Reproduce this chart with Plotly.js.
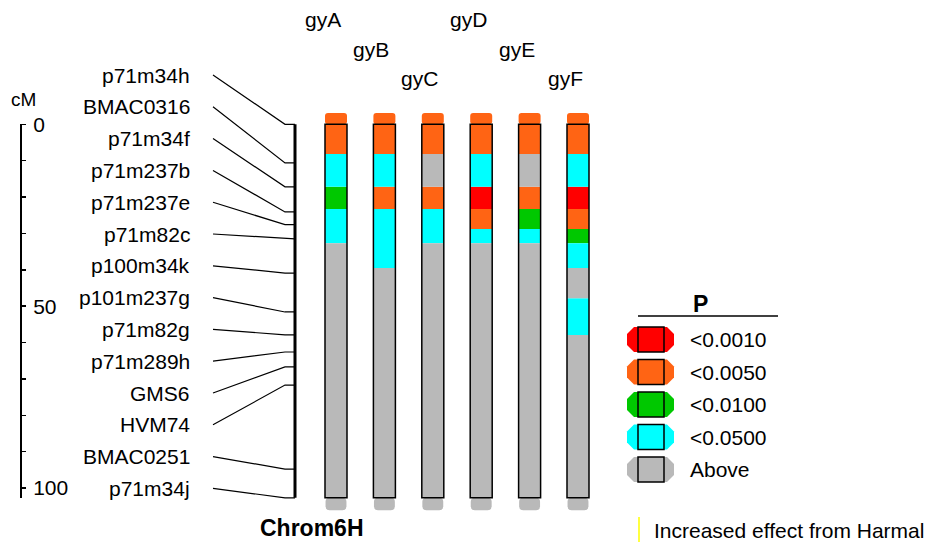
<!DOCTYPE html>
<html><head><meta charset="utf-8">
<script src="https://cdn.plot.ly/plotly-3.0.1.min.js"></script>
<style>html,body{margin:0;padding:0;background:#fff;}#chart{width:933px;height:542px;}</style>
</head><body><div id="chart"></div>
<script>
// ---------------- data ----------------
const chromName = 'Chrom6H';
const chromLen = 102.7;
const markerNames = ['p71m34h','BMAC0316','p71m34f','p71m237b','p71m237e','p71m82c','p100m34k',
  'p101m237g','p71m82g','p71m289h','GMS6','HVM74','BMAC0251','p71m34j'];
const markerPos = [0, 10.6, 17.2, 24.1, 27.6, 31.5, 40.9, 51.6, 57.9, 62.6, 66.7, 71.7, 94.8, 102.7];
const scaleTicks = [0,10,20,30,40,50,60,70,80,90,100];
const scaleLabels = ['0','','','','','50','','','','','100'];
const traitNames = ['gyA','gyB','gyC','gyD','gyE','gyF'];
const levelLabels = ['<0.0010','<0.0050','<0.0100','<0.0500','Above'];
const levelColors = ['#ff0000','#ff6414','#00c800','#00ffff','#b9b9b9'];
// interval boundaries (cM) and P-level index of each interval per trait
const intervalBounds = [0, 8.2, 17.2, 23.3, 28.8, 32.7, 39.5, 47.8, 57.9, 102.7];
const gyA = [1,3,2,3,3,4,4,4,4];
const gyB = [1,3,1,3,3,3,4,4,4];
const gyC = [1,4,1,3,3,4,4,4,4];
const gyD = [1,3,0,1,3,4,4,4,4];
const gyE = [1,4,1,2,3,4,4,4,4];
const gyF = [1,3,0,1,2,3,4,3,4];
const traitLevels = [gyA,gyB,gyC,gyD,gyE,gyF];
const noteText = 'Increased effect from Harmal';

// ---------------- layout constants ----------------
const W = 933, H = 542;
const ppc = 3.637, topPx = 124.3;           // px per cM, pixel of 0 cM
const yMin = -topPx/ppc, yMax = yMin + H/ppc;
const pxToCM = py => yMin + py/ppc;
const px = x => x/W, py = y => 1 - y/H;
const FONT = 'Liberation Sans, Arial, sans-serif';
const barW = 22/48.4;

const traces = [];
// helper trace for scale axis subplot
traces.push({type:'scatter', x:[null], y:[null], xaxis:'x2', yaxis:'y2', hoverinfo:'skip', showlegend:false});

// connectors
const labelTop = 75, labelStep = 31.8;
const cx = [], cy = [];
markerNames.forEach((n,i)=>{
  const ly = pxToCM(labelTop + i*labelStep);
  cx.push(213, 285, 295, null);
  cy.push(ly, markerPos[i], markerPos[i], null);
});
traces.push({type:'scatter', mode:'lines', x:cx, y:cy, xaxis:'x2', yaxis:'y',
  line:{color:'#000', width:1.2}, hoverinfo:'skip', showlegend:false});
// chromosome
traces.push({type:'scatter', mode:'lines', x:[295,295], y:[0, chromLen], xaxis:'x2', yaxis:'y',
  line:{color:'#000', width:3}, hoverinfo:'skip', showlegend:false});

// segments
levelLabels.forEach((lab, L)=>{
  const xs=[], bs=[], ls=[];
  traitLevels.forEach((lv, t)=>{
    let i=0;
    while(i<lv.length){
      let j=i; while(j+1<lv.length && lv[j+1]===lv[i]) j++;
      if(lv[i]===L){ xs.push(traitNames[t]); bs.push(intervalBounds[i]); ls.push(intervalBounds[j+1]-intervalBounds[i]); }
      i=j+1;
    }
  });
  traces.push({type:'bar', x:xs, base:bs, y:ls, width:barW, marker:{color:levelColors[L]},
    hoverinfo:'skip', showlegend:false, xaxis:'x', yaxis:'y'});
});
// caps
traces.push({type:'bar', x:traitNames, base:traitNames.map(()=>0), y:traitNames.map(()=>-3.1), width:barW,
  marker:{color:traitLevels.map(l=>levelColors[l[0]]), cornerradius:3}, hoverinfo:'skip', showlegend:false});
traces.push({type:'bar', x:traitNames, base:traitNames.map(()=>chromLen), y:traitNames.map(()=>3.4), width:barW*0.95,
  marker:{color:traitLevels.map(l=>levelColors[l[l.length-1]]), cornerradius:4}, hoverinfo:'skip', showlegend:false});
// outlines
traces.push({type:'bar', x:traitNames, base:traitNames.map(()=>0), y:traitNames.map(()=>chromLen), width:barW,
  marker:{color:'rgba(0,0,0,0)', line:{color:'#000', width:1.5}}, hoverinfo:'skip', showlegend:false});

// ---------------- annotations & shapes ----------------
const annotations = [];
const shapes = [];
markerNames.forEach((n,i)=>{
  annotations.push({text:n, xref:'x2', yref:'y', x:192, y:pxToCM(labelTop+i*labelStep),
    xanchor:'right', yanchor:'middle', showarrow:false, font:{family:FONT, size:21, color:'#000'}});
});
const labelRows = [20, 49, 78];
traitNames.forEach((n,i)=>{
  annotations.push({text:n, xref:'x', yref:'paper', x:n, xshift:-13, y:py(labelRows[i%3]),
    xanchor:'center', yanchor:'middle', showarrow:false, font:{family:FONT, size:21, color:'#000'}});
});
annotations.push({text:'cM', xref:'paper', yref:'paper', x:px(23), y:py(100), xanchor:'center', yanchor:'middle',
  showarrow:false, font:{family:FONT, size:19, color:'#000'}});
annotations.push({text:'<b>'+chromName+'</b>', xref:'paper', yref:'paper', x:px(312), y:py(528), xanchor:'center', yanchor:'middle',
  showarrow:false, font:{family:FONT, size:23, color:'#000'}});
// legend
annotations.push({text:'<b>P</b>', xref:'paper', yref:'paper', x:px(700), y:py(304), xanchor:'center', yanchor:'middle',
  showarrow:false, font:{family:FONT, size:23, color:'#000'}});
shapes.push({type:'line', xref:'paper', yref:'paper', x0:px(638), x1:px(778), y0:py(316), y1:py(316), line:{color:'#000', width:1.5}});
function octPath(x0,y0,x1,y1,c){
  const pts=[[x0+c,y0],[x1-c,y0],[x1,y0+c],[x1,y1-c],[x1-c,y1],[x0+c,y1],[x0,y1-c],[x0,y0+c]];
  return 'M'+pts.map(p=>px(p[0])+','+py(p[1])).join(' L')+' Z';
}
const legTop = 339.5, legStep = 32.5;
levelLabels.forEach((lab,i)=>{
  const cyP = legTop + i*legStep;
  shapes.push({type:'path', xref:'paper', yref:'paper', path:octPath(627, cyP-12.5, 674, cyP+12.5, 7),
    fillcolor:levelColors[i], line:{width:0}});
  shapes.push({type:'rect', xref:'paper', yref:'paper', x0:px(638), x1:px(664), y0:py(cyP-12.5), y1:py(cyP+12.5),
    fillcolor:levelColors[i], line:{color:'#000', width:1.5}});
  annotations.push({text:lab.replace('<','&lt;'), xref:'paper', yref:'paper', x:px(688), y:py(cyP), xanchor:'left', yanchor:'middle',
    showarrow:false, font:{family:FONT, size:21, color:'#000'}});
});
shapes.push({type:'line', xref:'paper', yref:'paper', x0:px(639), x1:px(639), y0:py(517), y1:py(542), line:{color:'#ffff00', width:1.5}});
annotations.push({text:noteText, xref:'paper', yref:'paper', x:px(652), y:py(530), xanchor:'left', yanchor:'middle',
  showarrow:false, font:{family:FONT, size:21, color:'#000'}});

const layout = {
  width:W, height:H, margin:{l:0,r:0,t:0,b:0}, paper_bgcolor:'#fff', plot_bgcolor:'rgba(0,0,0,0)',
  showlegend:false, barmode:'overlay', hovermode:false,
  xaxis:{type:'category', categoryarray:traitNames, range:[-0.5,5.5], domain:[px(311.8), px(602.2)], visible:false, anchor:'y'},
  yaxis:{range:[yMax, yMin], domain:[0,1], visible:false, anchor:'x'},
  xaxis2:{range:[0,310], domain:[0, px(310)], visible:false, anchor:'y'},
  yaxis2:{range:[chromLen, 0], domain:[py(topPx+chromLen*ppc), py(topPx)], anchor:'free', position:px(21), side:'right',
    showline:true, linecolor:'#000', linewidth:2, ticks:'outside', ticklen:4, tickwidth:1.5, tickcolor:'#000',
    tickvals:scaleTicks, ticktext:scaleLabels, tickfont:{family:FONT, size:21, color:'#000'},
    showgrid:false, zeroline:false, ticklabelstandoff:3},
  annotations:annotations, shapes:shapes
};
Plotly.newPlot('chart', traces, layout, {staticPlot:true, displayModeBar:false});
</script></body></html>
